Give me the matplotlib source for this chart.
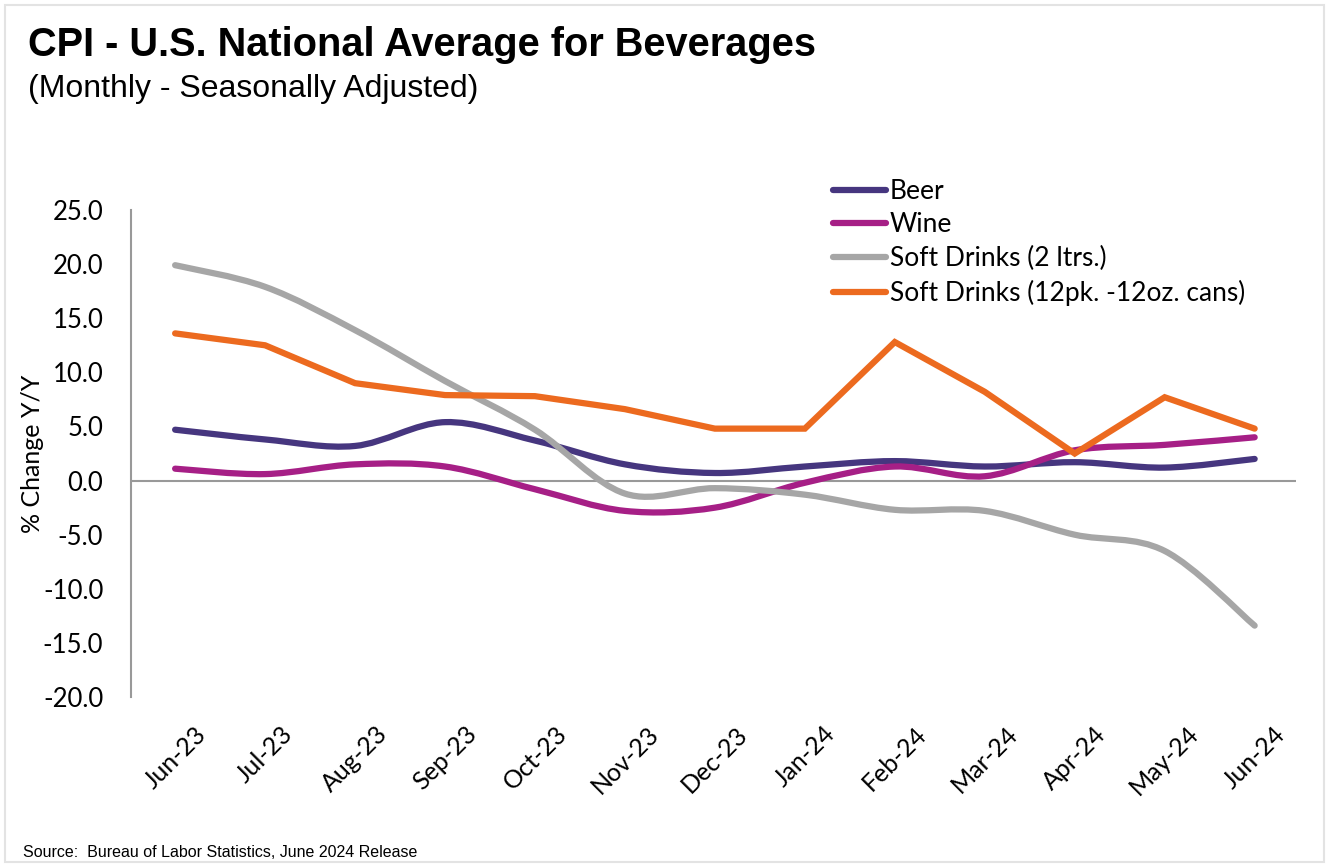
import numpy as np
import matplotlib
matplotlib.use("Agg")
import matplotlib.pyplot as plt
from matplotlib.path import Path
from matplotlib.patches import PathPatch, Rectangle
from matplotlib.lines import Line2D

months = ["Jun-23", "Jul-23", "Aug-23", "Sep-23", "Oct-23", "Nov-23", "Dec-23",
          "Jan-24", "Feb-24", "Mar-24", "Apr-24", "May-24", "Jun-24"]
beer = [4.7, 3.8, 3.2, 5.4, 3.7, 1.5, 0.7, 1.3, 1.8, 1.3, 1.7, 1.2, 2.0]
wine = [1.1, 0.6, 1.5, 1.3, -0.8, -2.8, -2.5, -0.2, 1.3, 0.4, 2.8, 3.3, 4.0]
soft_2l = [19.9, 17.9, 13.9, 9.2, 4.7, -1.2, -0.7, -1.3, -2.7, -2.8, -5.0, -6.5, -13.4]
soft_12pk = [13.6, 12.5, 9.0, 7.9, 7.8, 6.6, 4.8, 4.8, 12.8, 8.2, 2.5, 7.7, 4.8]

names = ["Beer", "Wine", "Soft Drinks (2 ltrs.)", "Soft Drinks (12pk. -12oz. cans)"]
colors = ["#46367f", "#a61f86", "#a6a6a6", "#ec6a1f"]

TICK_FONT = ["Lato", "DejaVu Sans"]
HEAD_FONT = ["Liberation Sans", "DejaVu Sans"]


def smooth_path(xs, ys):
    # Excel-style smoothed line: cubic Bezier through every point
    pts = np.column_stack([xs, ys]).astype(float)
    n = len(pts)
    verts = [pts[0]]
    codes = [Path.MOVETO]
    for i in range(n - 1):
        p0 = pts[i - 1] if i > 0 else pts[i]
        p1 = pts[i]
        p2 = pts[i + 1]
        p3 = pts[i + 2] if i + 2 < n else pts[i + 1]
        c1 = p1 + (p2 - p0) / 6.0
        c2 = p2 - (p3 - p1) / 6.0
        verts += [c1, c2, p2]
        codes += [Path.CURVE4] * 3
    return Path(verts, codes)


fig = plt.figure(figsize=(13.29, 8.67), dpi=100)
ax = fig.add_axes([0.0986, 0.196, 0.8766, 0.5618])

x = np.arange(len(months))
ax.axhline(0, color="#999999", lw=1.5, zorder=1)

smooth_series = [beer, wine, soft_2l]
for vals, c in zip(smooth_series, colors[:3]):
    patch = PathPatch(smooth_path(x, vals), fill=False, edgecolor=c, lw=4.5,
                      capstyle="round", joinstyle="round", zorder=3)
    ax.add_patch(patch)
ax.plot(x, soft_12pk, color=colors[3], lw=4.5, solid_capstyle="round",
        solid_joinstyle="miter", zorder=3)

ax.set_xlim(-0.49, 12.46)
ax.set_ylim(-20, 25)
ax.set_yticks(np.arange(-20, 26, 5))
ax.set_yticklabels([f"{v:.1f}" for v in np.arange(-20, 26, 5)],
                   fontsize=18.5, family=TICK_FONT)
ax.set_xticks(x)
ax.set_xticklabels(months, rotation=45, ha="center", fontsize=18, family=TICK_FONT)
ax.tick_params(axis="both", length=0)
ax.tick_params(axis="x", pad=18)
ax.tick_params(axis="y", pad=20)

for s in ["top", "right", "bottom"]:
    ax.spines[s].set_visible(False)
ax.spines["left"].set_color("#999999")
ax.spines["left"].set_linewidth(1.5)

ax.set_ylabel("% Change Y/Y", fontsize=18, family=TICK_FONT, labelpad=-1)

handles = [Line2D([0], [0], color=c, lw=4.5, solid_capstyle="round") for c in colors]
fig.legend(handles, names, loc="upper left", bbox_to_anchor=(0.617, 0.809),
           frameon=False, prop={"family": TICK_FONT, "size": 19},
           handlelength=2.0, handletextpad=0.15, labelspacing=0.33, borderpad=0)

fig.text(0.021, 0.935, "CPI - U.S. National Average for Beverages",
         fontsize=28.6, fontweight="bold", family=HEAD_FONT, va="baseline")
fig.text(0.021, 0.888, "(Monthly - Seasonally Adjusted)",
         fontsize=23, family=HEAD_FONT, va="baseline")
fig.text(0.017, 0.012, "Source:  Bureau of Labor Statistics, June 2024 Release",
         fontsize=11.5, family=HEAD_FONT, va="baseline")

fig.patches.append(Rectangle((0.004, 0.006), 0.992, 0.988, transform=fig.transFigure,
                             fill=False, edgecolor="#e3e3e3", lw=1.5))

fig.savefig("out.png", dpi=100)
